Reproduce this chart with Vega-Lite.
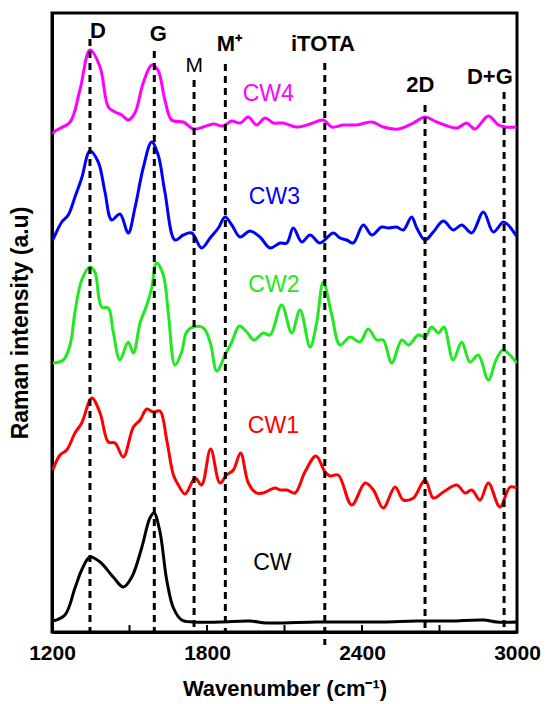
{
  "$schema": "https://vega.github.io/schema/vega-lite/v6.json",
  "width": 465,
  "height": 619,
  "autosize": {"type": "none"},
  "padding": {"left": 52, "top": 13, "right": 29, "bottom": 72},
  "background": "white",
  "config": {
    "view": {"stroke": "black", "strokeWidth": 3},
    "font": "Liberation Sans",
    "axis": {"grid": false}
  },
  "datasets": {
    "spectra": [
      {"series": "CW4", "wn": 1203, "i": 491}, {"series": "CW4", "wn": 1212, "i": 494}, {"series": "CW4", "wn": 1270, "i": 503}, {"series": "CW4", "wn": 1308, "i": 535}, {"series": "CW4", "wn": 1347, "i": 575}, {"series": "CW4", "wn": 1386, "i": 558}, {"series": "CW4", "wn": 1418, "i": 518}, {"series": "CW4", "wn": 1444, "i": 513}, {"series": "CW4", "wn": 1470, "i": 510}, {"series": "CW4", "wn": 1495, "i": 505}, {"series": "CW4", "wn": 1521, "i": 512}, {"series": "CW4", "wn": 1553, "i": 542}, {"series": "CW4", "wn": 1586, "i": 560}, {"series": "CW4", "wn": 1610, "i": 555}, {"series": "CW4", "wn": 1637, "i": 525}, {"series": "CW4", "wn": 1663, "i": 505}, {"series": "CW4", "wn": 1708, "i": 503}, {"series": "CW4", "wn": 1747, "i": 496}, {"series": "CW4", "wn": 1786, "i": 498}, {"series": "CW4", "wn": 1824, "i": 501}, {"series": "CW4", "wn": 1863, "i": 499}, {"series": "CW4", "wn": 1896, "i": 504}, {"series": "CW4", "wn": 1928, "i": 502}, {"series": "CW4", "wn": 1960, "i": 508}, {"series": "CW4", "wn": 1992, "i": 500}, {"series": "CW4", "wn": 2025, "i": 507}, {"series": "CW4", "wn": 2057, "i": 502}, {"series": "CW4", "wn": 2095, "i": 502}, {"series": "CW4", "wn": 2147, "i": 498}, {"series": "CW4", "wn": 2199, "i": 501}, {"series": "CW4", "wn": 2250, "i": 505}, {"series": "CW4", "wn": 2283, "i": 498}, {"series": "CW4", "wn": 2328, "i": 500}, {"series": "CW4", "wn": 2380, "i": 500}, {"series": "CW4", "wn": 2438, "i": 503}, {"series": "CW4", "wn": 2482, "i": 498}, {"series": "CW4", "wn": 2541, "i": 496}, {"series": "CW4", "wn": 2599, "i": 502}, {"series": "CW4", "wn": 2644, "i": 508}, {"series": "CW4", "wn": 2689, "i": 503}, {"series": "CW4", "wn": 2767, "i": 497}, {"series": "CW4", "wn": 2805, "i": 502}, {"series": "CW4", "wn": 2837, "i": 496}, {"series": "CW4", "wn": 2889, "i": 509}, {"series": "CW4", "wn": 2928, "i": 500}, {"series": "CW4", "wn": 2954, "i": 498}, {"series": "CW4", "wn": 2998, "i": 498},
      {"series": "CW3", "wn": 1203, "i": 385}, {"series": "CW3", "wn": 1212, "i": 390}, {"series": "CW3", "wn": 1238, "i": 403}, {"series": "CW3", "wn": 1263, "i": 410}, {"series": "CW3", "wn": 1289, "i": 428}, {"series": "CW3", "wn": 1315, "i": 447}, {"series": "CW3", "wn": 1347, "i": 474}, {"series": "CW3", "wn": 1379, "i": 463}, {"series": "CW3", "wn": 1405, "i": 433}, {"series": "CW3", "wn": 1431, "i": 405}, {"series": "CW3", "wn": 1463, "i": 411}, {"series": "CW3", "wn": 1495, "i": 392}, {"series": "CW3", "wn": 1521, "i": 417}, {"series": "CW3", "wn": 1553, "i": 457}, {"series": "CW3", "wn": 1586, "i": 483}, {"series": "CW3", "wn": 1611, "i": 470}, {"series": "CW3", "wn": 1637, "i": 433}, {"series": "CW3", "wn": 1676, "i": 385}, {"series": "CW3", "wn": 1708, "i": 390}, {"series": "CW3", "wn": 1741, "i": 392}, {"series": "CW3", "wn": 1779, "i": 377}, {"series": "CW3", "wn": 1812, "i": 387}, {"series": "CW3", "wn": 1844, "i": 397}, {"series": "CW3", "wn": 1870, "i": 408}, {"series": "CW3", "wn": 1896, "i": 400}, {"series": "CW3", "wn": 1928, "i": 388}, {"series": "CW3", "wn": 1966, "i": 394}, {"series": "CW3", "wn": 2005, "i": 388}, {"series": "CW3", "wn": 2044, "i": 377}, {"series": "CW3", "wn": 2083, "i": 382}, {"series": "CW3", "wn": 2109, "i": 382}, {"series": "CW3", "wn": 2134, "i": 397}, {"series": "CW3", "wn": 2167, "i": 383}, {"series": "CW3", "wn": 2199, "i": 390}, {"series": "CW3", "wn": 2237, "i": 382}, {"series": "CW3", "wn": 2289, "i": 392}, {"series": "CW3", "wn": 2315, "i": 387}, {"series": "CW3", "wn": 2341, "i": 385}, {"series": "CW3", "wn": 2366, "i": 382}, {"series": "CW3", "wn": 2405, "i": 400}, {"series": "CW3", "wn": 2438, "i": 390}, {"series": "CW3", "wn": 2476, "i": 398}, {"series": "CW3", "wn": 2502, "i": 397}, {"series": "CW3", "wn": 2534, "i": 398}, {"series": "CW3", "wn": 2560, "i": 395}, {"series": "CW3", "wn": 2592, "i": 408}, {"series": "CW3", "wn": 2612, "i": 397}, {"series": "CW3", "wn": 2644, "i": 385}, {"series": "CW3", "wn": 2676, "i": 393}, {"series": "CW3", "wn": 2715, "i": 404}, {"series": "CW3", "wn": 2753, "i": 395}, {"series": "CW3", "wn": 2786, "i": 400}, {"series": "CW3", "wn": 2825, "i": 392}, {"series": "CW3", "wn": 2870, "i": 413}, {"series": "CW3", "wn": 2908, "i": 393}, {"series": "CW3", "wn": 2947, "i": 403}, {"series": "CW3", "wn": 2966, "i": 400}, {"series": "CW3", "wn": 2998, "i": 389},
      {"series": "CW2", "wn": 1203, "i": 262}, {"series": "CW2", "wn": 1244, "i": 265}, {"series": "CW2", "wn": 1270, "i": 280}, {"series": "CW2", "wn": 1289, "i": 313}, {"series": "CW2", "wn": 1315, "i": 345}, {"series": "CW2", "wn": 1347, "i": 358}, {"series": "CW2", "wn": 1366, "i": 353}, {"series": "CW2", "wn": 1392, "i": 318}, {"series": "CW2", "wn": 1418, "i": 317}, {"series": "CW2", "wn": 1437, "i": 293}, {"series": "CW2", "wn": 1463, "i": 265}, {"series": "CW2", "wn": 1495, "i": 283}, {"series": "CW2", "wn": 1515, "i": 272}, {"series": "CW2", "wn": 1541, "i": 302}, {"series": "CW2", "wn": 1567, "i": 320}, {"series": "CW2", "wn": 1586, "i": 337}, {"series": "CW2", "wn": 1605, "i": 362}, {"series": "CW2", "wn": 1631, "i": 350}, {"series": "CW2", "wn": 1651, "i": 310}, {"series": "CW2", "wn": 1676, "i": 260}, {"series": "CW2", "wn": 1702, "i": 273}, {"series": "CW2", "wn": 1721, "i": 293}, {"series": "CW2", "wn": 1747, "i": 298}, {"series": "CW2", "wn": 1786, "i": 297}, {"series": "CW2", "wn": 1812, "i": 283}, {"series": "CW2", "wn": 1838, "i": 254}, {"series": "CW2", "wn": 1870, "i": 270}, {"series": "CW2", "wn": 1896, "i": 283}, {"series": "CW2", "wn": 1925, "i": 299}, {"series": "CW2", "wn": 1954, "i": 293}, {"series": "CW2", "wn": 1982, "i": 285}, {"series": "CW2", "wn": 2018, "i": 292}, {"series": "CW2", "wn": 2044, "i": 290}, {"series": "CW2", "wn": 2089, "i": 320}, {"series": "CW2", "wn": 2128, "i": 292}, {"series": "CW2", "wn": 2160, "i": 315}, {"series": "CW2", "wn": 2199, "i": 278}, {"series": "CW2", "wn": 2225, "i": 303}, {"series": "CW2", "wn": 2250, "i": 343}, {"series": "CW2", "wn": 2283, "i": 310}, {"series": "CW2", "wn": 2315, "i": 280}, {"series": "CW2", "wn": 2354, "i": 288}, {"series": "CW2", "wn": 2392, "i": 283}, {"series": "CW2", "wn": 2424, "i": 296}, {"series": "CW2", "wn": 2457, "i": 285}, {"series": "CW2", "wn": 2482, "i": 285}, {"series": "CW2", "wn": 2515, "i": 262}, {"series": "CW2", "wn": 2554, "i": 285}, {"series": "CW2", "wn": 2580, "i": 280}, {"series": "CW2", "wn": 2618, "i": 290}, {"series": "CW2", "wn": 2644, "i": 288}, {"series": "CW2", "wn": 2670, "i": 298}, {"series": "CW2", "wn": 2696, "i": 292}, {"series": "CW2", "wn": 2717, "i": 298}, {"series": "CW2", "wn": 2753, "i": 265}, {"series": "CW2", "wn": 2786, "i": 283}, {"series": "CW2", "wn": 2818, "i": 263}, {"series": "CW2", "wn": 2850, "i": 270}, {"series": "CW2", "wn": 2889, "i": 245}, {"series": "CW2", "wn": 2919, "i": 265}, {"series": "CW2", "wn": 2945, "i": 275}, {"series": "CW2", "wn": 2973, "i": 270}, {"series": "CW2", "wn": 2998, "i": 262},
      {"series": "CW1", "wn": 1203, "i": 155}, {"series": "CW1", "wn": 1231, "i": 170}, {"series": "CW1", "wn": 1257, "i": 175}, {"series": "CW1", "wn": 1289, "i": 192}, {"series": "CW1", "wn": 1315, "i": 202}, {"series": "CW1", "wn": 1354, "i": 227}, {"series": "CW1", "wn": 1386, "i": 212}, {"series": "CW1", "wn": 1418, "i": 183}, {"series": "CW1", "wn": 1444, "i": 182}, {"series": "CW1", "wn": 1476, "i": 168}, {"series": "CW1", "wn": 1515, "i": 198}, {"series": "CW1", "wn": 1541, "i": 205}, {"series": "CW1", "wn": 1567, "i": 216}, {"series": "CW1", "wn": 1592, "i": 213}, {"series": "CW1", "wn": 1618, "i": 214}, {"series": "CW1", "wn": 1644, "i": 185}, {"series": "CW1", "wn": 1670, "i": 150}, {"series": "CW1", "wn": 1689, "i": 140}, {"series": "CW1", "wn": 1715, "i": 131}, {"series": "CW1", "wn": 1754, "i": 147}, {"series": "CW1", "wn": 1779, "i": 140}, {"series": "CW1", "wn": 1814, "i": 176}, {"series": "CW1", "wn": 1850, "i": 142}, {"series": "CW1", "wn": 1876, "i": 150}, {"series": "CW1", "wn": 1902, "i": 155}, {"series": "CW1", "wn": 1930, "i": 172}, {"series": "CW1", "wn": 1960, "i": 142}, {"series": "CW1", "wn": 1992, "i": 132}, {"series": "CW1", "wn": 2018, "i": 132}, {"series": "CW1", "wn": 2063, "i": 137}, {"series": "CW1", "wn": 2083, "i": 135}, {"series": "CW1", "wn": 2109, "i": 135}, {"series": "CW1", "wn": 2141, "i": 132}, {"series": "CW1", "wn": 2179, "i": 153}, {"series": "CW1", "wn": 2222, "i": 169}, {"series": "CW1", "wn": 2257, "i": 153}, {"series": "CW1", "wn": 2276, "i": 149}, {"series": "CW1", "wn": 2308, "i": 150}, {"series": "CW1", "wn": 2360, "i": 120}, {"series": "CW1", "wn": 2412, "i": 142}, {"series": "CW1", "wn": 2444, "i": 135}, {"series": "CW1", "wn": 2482, "i": 117}, {"series": "CW1", "wn": 2528, "i": 138}, {"series": "CW1", "wn": 2560, "i": 125}, {"series": "CW1", "wn": 2599, "i": 127}, {"series": "CW1", "wn": 2644, "i": 145}, {"series": "CW1", "wn": 2676, "i": 127}, {"series": "CW1", "wn": 2715, "i": 133}, {"series": "CW1", "wn": 2767, "i": 140}, {"series": "CW1", "wn": 2799, "i": 132}, {"series": "CW1", "wn": 2825, "i": 135}, {"series": "CW1", "wn": 2857, "i": 125}, {"series": "CW1", "wn": 2889, "i": 142}, {"series": "CW1", "wn": 2934, "i": 118}, {"series": "CW1", "wn": 2973, "i": 138}, {"series": "CW1", "wn": 2998, "i": 137},
      {"series": "CW", "wn": 1203, "i": 4}, {"series": "CW", "wn": 1250, "i": 10}, {"series": "CW", "wn": 1289, "i": 37}, {"series": "CW", "wn": 1315, "i": 55}, {"series": "CW", "wn": 1347, "i": 68}, {"series": "CW", "wn": 1386, "i": 63}, {"series": "CW", "wn": 1437, "i": 48}, {"series": "CW", "wn": 1476, "i": 38}, {"series": "CW", "wn": 1509, "i": 48}, {"series": "CW", "wn": 1547, "i": 77}, {"series": "CW", "wn": 1579, "i": 107}, {"series": "CW", "wn": 1595, "i": 112}, {"series": "CW", "wn": 1618, "i": 93}, {"series": "CW", "wn": 1644, "i": 45}, {"series": "CW", "wn": 1670, "i": 17}, {"series": "CW", "wn": 1702, "i": 5}, {"series": "CW", "wn": 1747, "i": 3}, {"series": "CW", "wn": 1850, "i": 3}, {"series": "CW", "wn": 1966, "i": 4}, {"series": "CW", "wn": 2031, "i": 2}, {"series": "CW", "wn": 2225, "i": 3}, {"series": "CW", "wn": 2380, "i": 3}, {"series": "CW", "wn": 2482, "i": 3}, {"series": "CW", "wn": 2612, "i": 4}, {"series": "CW", "wn": 2741, "i": 4}, {"series": "CW", "wn": 2870, "i": 5}, {"series": "CW", "wn": 2921, "i": 3}, {"series": "CW", "wn": 2998, "i": 3}
    ],
    "peaks": [
      {"label": "D", "wn": 1347, "top": 586, "bottom": -7, "lx": 1378, "ly": 594},
      {"label": "G", "wn": 1596, "top": 574, "bottom": -7, "lx": 1612, "ly": 591},
      {"label": "M", "wn": 1750, "top": 545, "bottom": -7, "lx": 1751, "ly": 559},
      {"label": "M⁺", "wn": 1871, "top": 561, "bottom": -7, "lx": 1887, "ly": 581},
      {"label": "iTOTA", "wn": 2256, "top": 562, "bottom": -20, "lx": 2249, "ly": 581},
      {"label": "2D", "wn": 2644, "top": 520, "bottom": -7, "lx": 2626, "ly": 540},
      {"label": "D+G", "wn": 2950, "top": 533, "bottom": -7, "lx": 2895, "ly": 548}
    ],
    "minorticks": [
      {"wn": 1500, "from": -7, "to": 0},
      {"wn": 1800, "from": -7, "to": 0},
      {"wn": 2100, "from": -7, "to": 0},
      {"wn": 2400, "from": -7, "to": 0},
      {"wn": 2700, "from": -7, "to": 0}
    ],
    "names": [
      {"series": "CW4", "wn": 2037, "i": 531},
      {"series": "CW3", "wn": 2061, "i": 428},
      {"series": "CW2", "wn": 2059, "i": 340},
      {"series": "CW1", "wn": 2057, "i": 199},
      {"series": "CW", "wn": 2053, "i": 62}
    ]
  },
  "layer": [
    {
      "data": {"name": "spectra"},
      "mark": {"type": "line", "interpolate": "catmull-rom", "strokeWidth": 3, "clip": true},
      "encoding": {
        "x": {
          "field": "wn", "type": "quantitative",
          "scale": {"domain": [1200, 3000], "nice": false},
          "axis": {
            "values": [1200, 1800, 2400, 3000],
            "format": "d",
            "ticks": false,
            "domainColor": "black", "domainWidth": 3,
            "labelFont": "Liberation Sans", "labelFontSize": 21, "labelFontWeight": "bold", "labelColor": "black",
            "labelPadding": 10, "labelFlush": false,
            "title": "Wavenumber (cm⁻¹)", "titleFont": "Liberation Sans", "titleFontSize": 22, "titleFontWeight": "bold", "titleColor": "black", "titlePadding": 15
          }
        },
        "y": {
          "field": "i", "type": "quantitative",
          "scale": {"domain": [-7, 612], "nice": false, "zero": false},
          "axis": {
            "labels": false, "ticks": false, "domainColor": "black", "domainWidth": 3,
            "title": "Raman intensity (a.u)", "titleFont": "Liberation Sans", "titleFontSize": 23, "titleFontWeight": "bold", "titleColor": "black", "titlePadding": 20
          }
        },
        "color": {
          "field": "series", "type": "nominal",
          "scale": {"domain": ["CW4", "CW3", "CW2", "CW1", "CW"], "range": ["#ff00ff", "#0000ff", "#22e822", "#ff0000", "#000000"]},
          "legend": null
        }
      }
    },
    {
      "data": {"name": "minorticks"},
      "mark": {"type": "rule", "strokeWidth": 2, "color": "black", "clip": false},
      "encoding": {
        "x": {"field": "wn", "type": "quantitative"},
        "y": {"field": "from", "type": "quantitative"},
        "y2": {"field": "to"}
      }
    },
    {
      "data": {"name": "peaks"},
      "mark": {"type": "rule", "strokeDash": [7, 5], "strokeWidth": 3, "color": "black", "clip": false},
      "encoding": {
        "x": {"field": "wn", "type": "quantitative"},
        "y": {"field": "top", "type": "quantitative"},
        "y2": {"field": "bottom"}
      }
    },
    {
      "data": {"name": "peaks"},
      "transform": [{"filter": "datum.label != 'M'"}],
      "mark": {"type": "text", "font": "Liberation Sans", "fontSize": 22, "fontWeight": "bold", "color": "black", "align": "center", "baseline": "middle"},
      "encoding": {
        "x": {"field": "lx", "type": "quantitative"},
        "y": {"field": "ly", "type": "quantitative"},
        "text": {"field": "label"}
      }
    },
    {
      "data": {"name": "peaks"},
      "transform": [{"filter": "datum.label == 'M'"}],
      "mark": {"type": "text", "font": "Liberation Sans", "fontSize": 21, "color": "black", "align": "center", "baseline": "middle"},
      "encoding": {
        "x": {"field": "lx", "type": "quantitative"},
        "y": {"field": "ly", "type": "quantitative"},
        "text": {"field": "label"}
      }
    },
    {
      "data": {"name": "names"},
      "mark": {"type": "text", "font": "Liberation Sans", "fontSize": 23, "align": "center", "baseline": "middle"},
      "encoding": {
        "x": {"field": "wn", "type": "quantitative"},
        "y": {"field": "i", "type": "quantitative"},
        "text": {"field": "series"},
        "color": {"field": "series", "type": "nominal", "legend": null}
      }
    }
  ]
}
